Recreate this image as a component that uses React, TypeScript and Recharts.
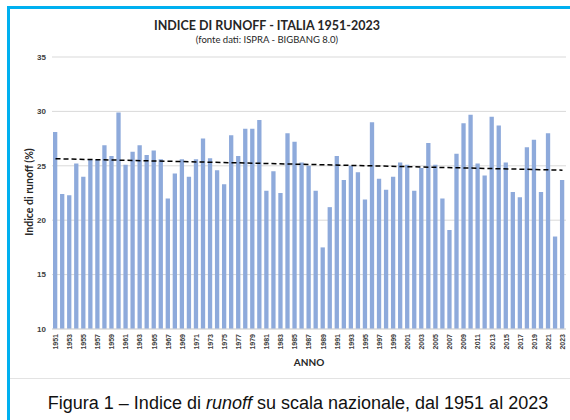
import { BarChart, Bar, XAxis, YAxis, CartesianGrid, ReferenceLine } from 'recharts';

// anni 1951-2023
const years = [
  '1951', '1952', '1953', '1954', '1955', '1956', '1957', '1958', '1959', '1960',
  '1961', '1962', '1963', '1964', '1965', '1966', '1967', '1968', '1969', '1970',
  '1971', '1972', '1973', '1974', '1975', '1976', '1977', '1978', '1979', '1980',
  '1981', '1982', '1983', '1984', '1985', '1986', '1987', '1988', '1989', '1990',
  '1991', '1992', '1993', '1994', '1995', '1996', '1997', '1998', '1999', '2000',
  '2001', '2002', '2003', '2004', '2005', '2006', '2007', '2008', '2009', '2010',
  '2011', '2012', '2013', '2014', '2015', '2016', '2017', '2018', '2019', '2020',
  '2021', '2022', '2023',
];

// indice di runoff (%)
const runoff = [
  28.1, 22.4, 22.3, 25.2, 24.0, 25.6, 25.6, 26.9, 25.9, 29.9,
  25.1, 26.3, 26.9, 26.0, 26.4, 25.6, 22.0, 24.3, 25.6, 24.0,
  25.6, 27.5, 25.7, 24.6, 23.3, 27.8, 25.9, 28.4, 28.4, 29.2,
  22.7, 24.5, 22.5, 28.0, 27.2, 25.3, 25.0, 22.7, 17.5, 21.2,
  25.9, 23.7, 25.0, 24.4, 21.9, 29.0, 23.8, 22.8, 24.0, 25.3,
  25.1, 22.7, 24.8, 27.1, 25.1, 22.0, 19.1, 26.1, 28.9, 29.7,
  25.2, 24.1, 29.5, 28.7, 25.3, 22.6, 22.1, 26.7, 27.4, 22.6,
  28.0, 18.5, 23.7,
];

const yTicks = [10, 15, 20, 25, 30, 35];

// estremi della retta di tendenza
const trendStart = 25.65;
const trendEnd = 24.6;

const chartData = years.map((year, i) => ({ year, value: runoff[i] }));

const XTick = (props: any) => {
  const { x, y, payload } = props;
  return (
    <text
      x={x}
      y={y}
      transform={`rotate(-90, ${x}, ${y})`}
      textAnchor="end"
      dy="0.35em"
      fontSize={7}
      fontWeight="bold"
      fill="#404040"
      fontFamily="Liberation Sans, Arial, sans-serif"
    >
      {payload.value}
    </text>
  );
};

export default function App() {
  return (
    <div
      style={{
        position: 'fixed',
        left: 0,
        top: 0,
        width: 570,
        height: 420,
        background: '#fff',
        overflow: 'hidden',
        fontFamily: 'Lato, sans-serif',
      }}
    >
      {/* cornice */}
      <div style={{ position: 'absolute', left: 7, top: 6, width: 3, height: 414, background: '#00b0f0' }} />
      <div style={{ position: 'absolute', left: 7, top: 6, width: 563, height: 3, background: '#00b0f0' }} />
      <div style={{ position: 'absolute', left: 10, top: 378, width: 560, height: 1, background: '#e3e3e3' }} />

      <div
        style={{
          position: 'absolute',
          left: 67,
          width: 400,
          top: 18,
          textAlign: 'center',
          fontSize: 12.5,
          fontWeight: 'bold',
          color: '#262626',
        }}
      >
        INDICE DI RUNOFF - ITALIA 1951-2023
      </div>
      <div
        style={{
          position: 'absolute',
          left: 67,
          width: 400,
          top: 34,
          textAlign: 'center',
          fontSize: 9.5,
          color: '#262626',
        }}
      >
        (fonte dati: ISPRA - BIGBANG 8.0)
      </div>

      <div style={{ position: 'absolute', left: 0, top: 0 }}>
        <BarChart
          width={570}
          height={420}
          data={chartData}
          margin={{ top: 57, right: 4, left: 0, bottom: 61 }}
        >
          <CartesianGrid vertical={false} stroke="#d9d9d9" />
          <XAxis
            dataKey="year"
            interval={1}
            height={30}
            tick={<XTick />}
            tickLine={false}
            tickSize={0}
            tickMargin={5}
            axisLine={{ stroke: '#d9d9d9' }}
          />
          <YAxis
            width={52}
            domain={[10, 35]}
            ticks={yTicks}
            tickLine={false}
            axisLine={false}
            tickSize={0}
            tickMargin={6}
            tick={{ fontSize: 8, fontWeight: 'bold', fill: '#404040', fontFamily: 'Liberation Sans, Arial, sans-serif' }}
          />
          <Bar dataKey="value" fill="#8eaadb" barSize={4.3} isAnimationActive={false} />
          <ReferenceLine
            segment={[
              { x: years[0], y: trendStart },
              { x: years[years.length - 1], y: trendEnd },
            ]}
            stroke="#000"
            strokeWidth={1.5}
            strokeDasharray="5 3"
          />
        </BarChart>
      </div>

      <div
        style={{
          position: 'absolute',
          left: 29,
          top: 192,
          transform: 'translate(-50%, -50%) rotate(-90deg)',
          whiteSpace: 'nowrap',
          fontSize: 10.5,
          fontWeight: 'bold',
          color: '#262626',
        }}
      >
        Indice di runoff (%)
      </div>

      <div
        style={{
          position: 'absolute',
          left: 309,
          top: 362,
          transform: 'translate(-50%, -50%)',
          fontSize: 10,
          fontWeight: 'bold',
          color: '#262626',
        }}
      >
        ANNO
      </div>

      <div
        style={{
          position: 'absolute',
          left: 298,
          top: 403,
          transform: 'translate(-50%, -50%)',
          whiteSpace: 'nowrap',
          fontSize: 18,
          color: '#111',
          fontFamily: '"Liberation Sans Narrow", "Liberation Sans", Arial, sans-serif',
        }}
      >
        Figura 1 – Indice di <i>runoff</i> su scala nazionale, dal 1951 al 2023
      </div>
    </div>
  );
}
